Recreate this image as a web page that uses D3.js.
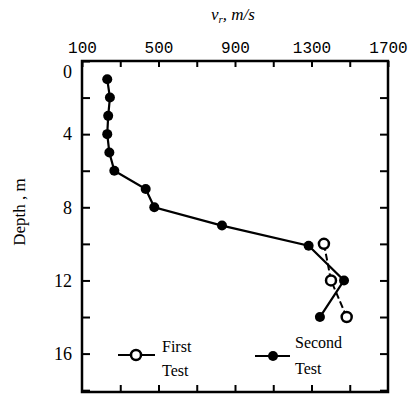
<!doctype html>
<html lang="en">
<head>
<meta charset="utf-8">
<style>
  body { margin: 0; background: #fff; }
  .lbl { font-family: "Liberation Serif", serif; font-size: 16px; }
</style>
</head>
<body>
<script src="https://d3js.org/d3.v7.min.js"></script>
<div id="chart"></div>
<script>
// second test (filled markers)
var secondDepth = [1, 2, 3, 4, 5, 6, 7, 8, 9, 10.1, 12, 14];
var secondVel   = [232, 246, 237, 232, 243, 269, 433, 478, 832, 1285, 1470, 1344];
// first test (open markers)
var firstDepth = [10, 12, 14];
var firstVel   = [1365, 1402, 1484];
var xTicks = [100, 300, 500, 700, 900, 1100, 1300, 1500, 1700];
var xLabels = [100, 500, 900, 1300, 1700];
var yTicks = [0, 2, 4, 6, 8, 10, 12, 14, 16, 18];
var yLabels = [0, 4, 8, 12, 16];

var width = 413, height = 395;
var svg = d3.select("#chart").append("svg")
    .attr("width", width).attr("height", height);

var x = d3.scaleLinear().domain([100, 1700]).range([82, 388]);
var y = d3.scaleLinear().domain([0, 18.1]).range([61, 392]);

// frame
svg.append("rect")
   .attr("x", x(100)).attr("y", y(0))
   .attr("width", x(1700) - x(100)).attr("height", y(18.1) - y(0))
   .attr("fill", "none").attr("stroke", "#000").attr("stroke-width", 2.5);

var topAx = svg.append("g")
    .attr("transform", "translate(0," + y(0) + ")")
    .call(d3.axisTop(x).tickValues(xTicks).tickSize(-6).tickPadding(8)
      .tickFormat(function(d) { return xLabels.indexOf(d) >= 0 ? d : ""; }));
topAx.selectAll("text").style("font-family", "'Liberation Mono', monospace").style("font-size", "16px");
svg.append("g")
    .attr("transform", "translate(0," + y(18.1) + ")")
    .call(d3.axisBottom(x).tickValues(xTicks.slice(1, -1)).tickSize(-7).tickFormat(""));
var left = svg.append("g")
    .attr("transform", "translate(" + x(100) + ",0)")
    .call(d3.axisLeft(y).tickValues(yTicks).tickSize(-8).tickPadding(10)
      .tickFormat(function(d) { return yLabels.indexOf(d) >= 0 ? d : ""; }));
left.selectAll("text").style("font-family", "'Liberation Serif', serif").style("font-size", "18px");
svg.append("g")
    .attr("transform", "translate(" + x(1700) + ",0)")
    .call(d3.axisRight(y).tickValues(yTicks.slice(1)).tickSize(-8).tickFormat(""));

svg.selectAll(".domain").remove();
svg.selectAll(".tick line").attr("stroke-width", 2);
left.selectAll(".tick text").filter(function(d) { return d === 0; }).attr("dy", "0.9em");

// axis titles
var t = svg.append("text").attr("class", "lbl")
    .attr("x", 233).attr("y", 20).attr("text-anchor", "middle")
    .style("font-style", "italic").style("font-size", "17px");
t.append("tspan").text("v");
t.append("tspan").attr("dy", 3).style("font-size", "11px").text("r");
t.append("tspan").attr("dy", -3).text(", m/s");

svg.append("text").attr("class", "lbl")
    .attr("transform", "translate(25,212) rotate(-90)")
    .attr("text-anchor", "middle").style("font-size", "17px")
    .text("Depth , m");

var line = d3.line().x(function(d) { return x(d[1]); }).y(function(d) { return y(d[0]); });
var second = d3.zip(secondDepth, secondVel);
var first = d3.zip(firstDepth, firstVel);

svg.append("path").datum(first).attr("d", line)
   .attr("fill", "none").attr("stroke", "#000").attr("stroke-width", 2)
   .attr("stroke-dasharray", "7,3");
svg.append("path").datum(second).attr("d", line)
   .attr("fill", "none").attr("stroke", "#000").attr("stroke-width", 2.2);

svg.selectAll(".s2").data(second).enter().append("circle")
   .attr("cx", function(d) { return x(d[1]); }).attr("cy", function(d) { return y(d[0]); })
   .attr("r", 5).attr("fill", "#000");
svg.selectAll(".s1").data(first).enter().append("circle")
   .attr("cx", function(d) { return x(d[1]); }).attr("cy", function(d) { return y(d[0]); })
   .attr("r", 5).attr("fill", "#fff").attr("stroke", "#000").attr("stroke-width", 2.5);

// legend
var lg = svg.append("g");
lg.append("line").attr("x1", 118).attr("x2", 155).attr("y1", 355).attr("y2", 355)
  .attr("stroke", "#000").attr("stroke-width", 2);
lg.append("circle").attr("cx", 136).attr("cy", 355).attr("r", 5)
  .attr("fill", "#fff").attr("stroke", "#000").attr("stroke-width", 2.5);
lg.append("text").attr("class", "lbl").attr("x", 162).attr("y", 352).text("First");
lg.append("text").attr("class", "lbl").attr("x", 162).attr("y", 376).text("Test");
lg.append("line").attr("x1", 255).attr("x2", 290).attr("y1", 356).attr("y2", 356)
  .attr("stroke", "#000").attr("stroke-width", 2);
lg.append("circle").attr("cx", 273).attr("cy", 356).attr("r", 5).attr("fill", "#000");
lg.append("text").attr("class", "lbl").attr("x", 295).attr("y", 348).text("Second");
lg.append("text").attr("class", "lbl").attr("x", 295).attr("y", 374).text("Test");
</script>
</body>
</html>
